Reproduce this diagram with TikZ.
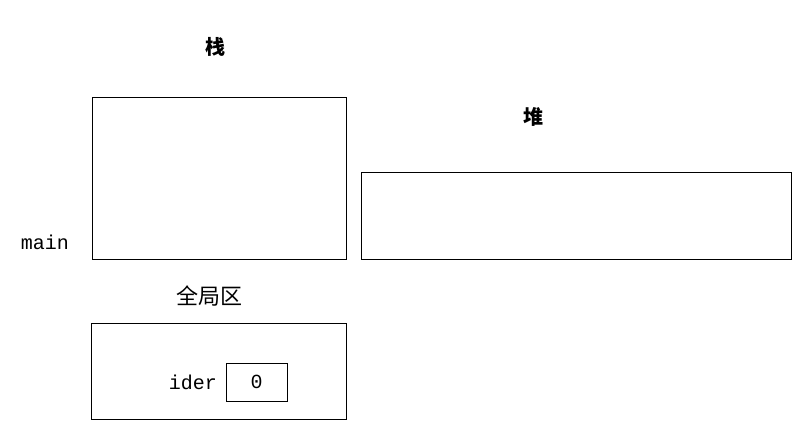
\documentclass[tikz,border=0pt]{standalone}
\usepackage{fontspec}
\setmonofont{Liberation Mono}
\newfontfamily\cjk{Noto Sans CJK SC}
\begin{document}
\begin{tikzpicture}[x=1pt,y=-1pt,box/.style={draw,line width=0.7pt},txt/.style={font=\ttfamily\fontsize{20}{22}\selectfont}]
\useasboundingbox (0,0) rectangle (800,426);
\node[font=\cjk\bfseries\fontsize{20}{22}\selectfont] (st) at (215,47) {栈};
\draw[box] (92,97) rectangle (346,259);
\node[font=\cjk\bfseries\fontsize{20}{22}\selectfont] (hp) at (533,117) {堆};
\draw[box] (361,172) rectangle (791,259);
\node[txt] (mn) at (45,242) {main};
\node[font=\cjk\fontsize{22}{24}\selectfont] (gl) at (209,296) {全局区};
\draw[box] (91,323) rectangle (346,419);
\node[txt] (id) at (193,382) {ider};
\node[box,txt,minimum width=61pt,minimum height=38pt,inner sep=0pt] (v) at (256.5,382) {0};
\end{tikzpicture}
\end{document}
